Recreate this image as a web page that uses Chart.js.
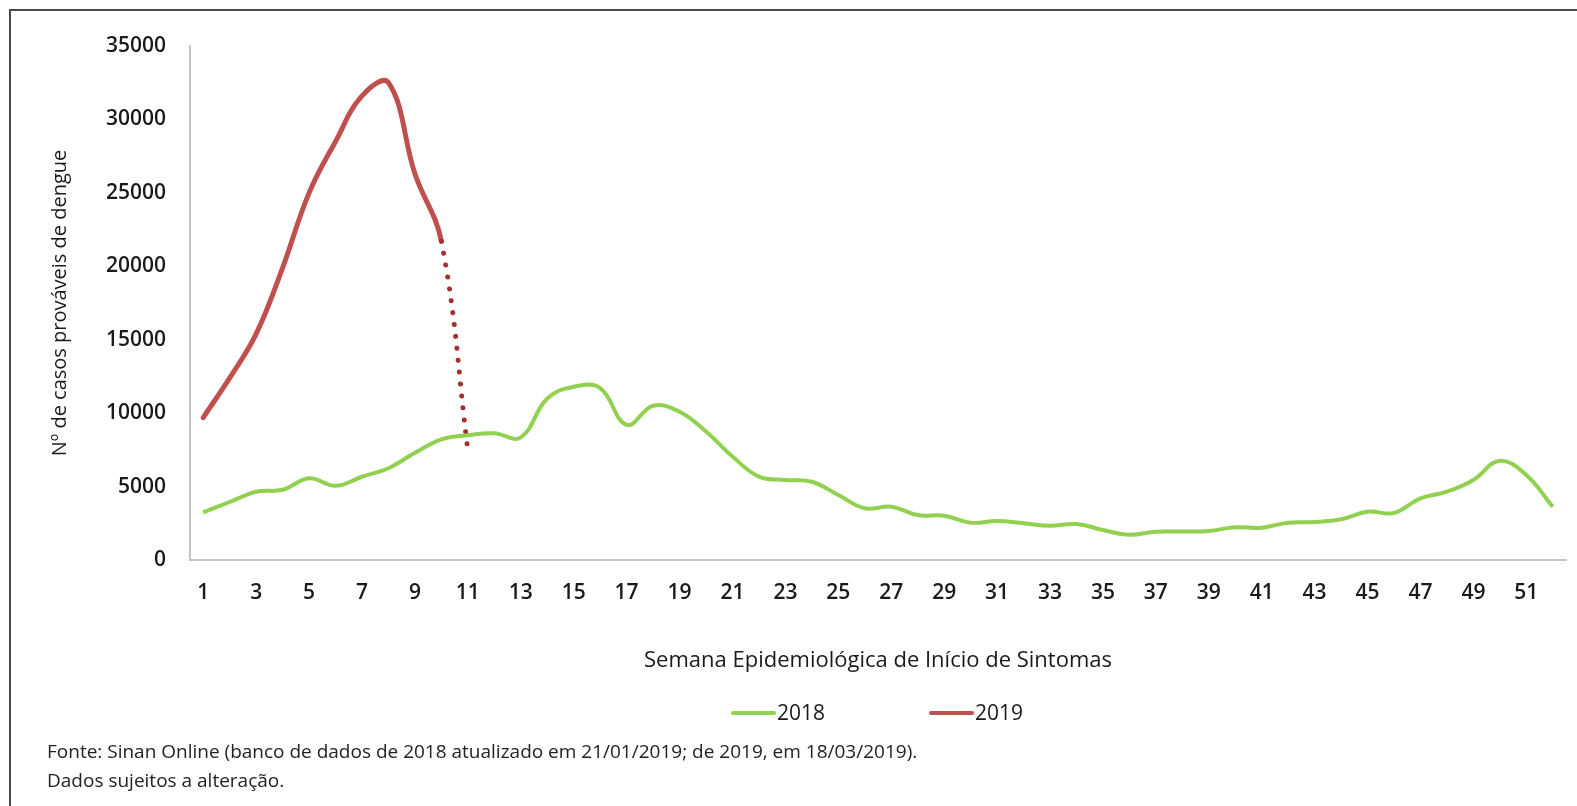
<!DOCTYPE html>
<html>
<head>
<meta charset="utf-8">
<script src="https://cdn.jsdelivr.net/npm/chart.js@4"></script>
<style>
  html, body { margin: 0; padding: 0; background: #fff; }
  #wrap { position: relative; width: 1577px; height: 806px; overflow: hidden; }
  #frame { position: absolute; left: 9px; top: 9px; right: -5px; bottom: -5px;
           border-top: 2px solid #4a4a4a; border-left: 2px solid #4a4a4a; }
  canvas { position: absolute; left: 0; top: 0; }
  .note { position: absolute; left: 47px; font-family: "Open Sans", "Noto Sans", sans-serif;
          font-size: 19px; color: #222; white-space: nowrap; }
</style>
</head>
<body>
<div id="wrap">
  <div id="frame"></div>
  <canvas id="dengueChart" width="1577" height="806"></canvas>
  <div class="note" style="top:738px">Fonte: Sinan Online (banco de dados de 2018 atualizado em 21/01/2019; de 2019, em 18/03/2019).</div>
  <div class="note" style="top:767px">Dados sujeitos a alteração.</div>
</div>
<script>
// semanas epidemiológicas 1..52
var semanas = [];
for (var i = 1; i <= 52; i++) semanas.push(String(i));

// casos prováveis 2018
var casos2018 = [3250, 3950, 4650, 4780, 5560, 5050, 5670, 6250, 7300, 8220,
                 8500, 8630, 8350, 11000, 11800, 11700, 9200, 10500, 10100, 8750,
                 7050, 5680, 5450, 5330, 4430, 3520, 3630, 3060, 3020, 2540,
                 2660, 2500, 2330, 2450, 2040, 1720, 1930, 1940, 1980, 2230,
                 2200, 2540, 2580, 2770, 3290, 3200, 4200, 4650, 5450, 6760,
                 5790, 3620];

// casos prováveis 2019 (semana 11 ainda incompleta -> pontilhado)
var casos2019 = [9700, 12400, 15400, 19900, 25000, 28500, 31600, 32500, 26300, 21700, 7500];

var yTicks = [0, 5000, 10000, 15000, 20000, 25000, 30000, 35000];

var corVerde = '#92d050';
var corVermelha = '#c0504d';
var corPontilhado = '#a3302d';

var fonteBase = '"Open Sans", "Noto Sans", sans-serif';

// legenda desenhada à mão (linha curta + texto colado)
var legendaPlugin = {
  id: 'legendaLinha',
  afterDraw: function(chart) {
    var ctx = chart.ctx;
    var y = 713;
    var lineW = 41, gapTxt = 3, gapItem = 106;
    ctx.save();
    ctx.font = '21px ' + fonteBase;
    ctx.textBaseline = 'middle';
    var ds = chart.data.datasets;
    var total = 0;
    ds.forEach(function(d, k) {
      total += lineW + gapTxt + ctx.measureText(d.label).width;
      if (k < ds.length - 1) total += gapItem;
    });
    var x = (chart.chartArea.left + chart.chartArea.right) / 2 - total / 2;
    ds.forEach(function(d) {
      ctx.strokeStyle = d.borderColor;
      ctx.lineWidth = 4;
      ctx.lineCap = 'round';
      ctx.beginPath();
      ctx.moveTo(x, y);
      ctx.lineTo(x + lineW, y);
      ctx.stroke();
      ctx.fillStyle = '#1a1a1a';
      ctx.fillText(d.label, x + lineW + gapTxt, y + 1);
      x += lineW + gapTxt + ctx.measureText(d.label).width + gapItem;
    });
    ctx.restore();
  }
};

var ctx = document.getElementById('dengueChart').getContext('2d');
var chart = new Chart(ctx, {
  type: 'line',
  data: {
    labels: semanas,
    datasets: [{
      label: '2018',
      data: casos2018,
      borderColor: corVerde,
      borderWidth: 4,
      pointRadius: 0,
      tension: 0.4,
      fill: false
    }, {
      label: '2019',
      data: casos2019,
      borderColor: corVermelha,
      borderWidth: 5,
      borderCapStyle: 'round',
      pointRadius: 0,
      tension: 0.4,
      fill: false,
      segment: {
        borderDash: function(c) { return c.p1DataIndex === casos2019.length - 1 ? [0.01, 12] : undefined; },
        borderColor: function(c) { return c.p1DataIndex === casos2019.length - 1 ? corPontilhado : undefined; }
      }
    }]
  },
  options: {
    responsive: false,
    animation: false,
    layout: { padding: { left: 0, top: 46, right: 11, bottom: 126 } },
    plugins: {
      legend: { display: false },
      tooltip: { enabled: false }
    },
    scales: {
      x: {
        offset: true,
        grid: { display: false, drawTicks: false },
        border: { display: true, color: '#c4c4c4', width: 2 },
        ticks: {
          autoSkip: false,
          maxRotation: 0,
          padding: 20,
          color: '#1a1a1a',
          font: { family: fonteBase, size: 21, weight: '600' },
          callback: function(v, idx) { return idx % 2 === 0 ? semanas[idx] : ''; }
        },
        title: {
          display: true,
          text: 'Semana Epidemiológica de Início de Sintomas',
          color: '#1a1a1a',
          font: { family: fonteBase, size: 22, weight: '500' },
          padding: { top: 0, bottom: 6 }
        },
        afterFit: function(s) { s.height = 120; }
      },
      y: {
        min: 0,
        max: 35000,
        grid: { display: false, drawTicks: false },
        border: { display: true, color: '#c4c4c4', width: 2 },
        afterBuildTicks: function(s) { s.ticks = yTicks.map(function(v) { return { value: v }; }); },
        ticks: {
          padding: 24,
          color: '#1a1a1a',
          font: { family: fonteBase, size: 21, weight: '600' },
          callback: function(v) { return String(v); }
        },
        title: {
          display: true,
          text: 'Nº de casos prováveis de dengue',
          color: '#1a1a1a',
          font: { family: fonteBase, size: 20, weight: '500' },
          padding: { top: 48, bottom: 0 }
        },
        afterFit: function(s) { s.width = 190; }
      }
    }
  },
  plugins: [legendaPlugin]
});
</script>
</body>
</html>
